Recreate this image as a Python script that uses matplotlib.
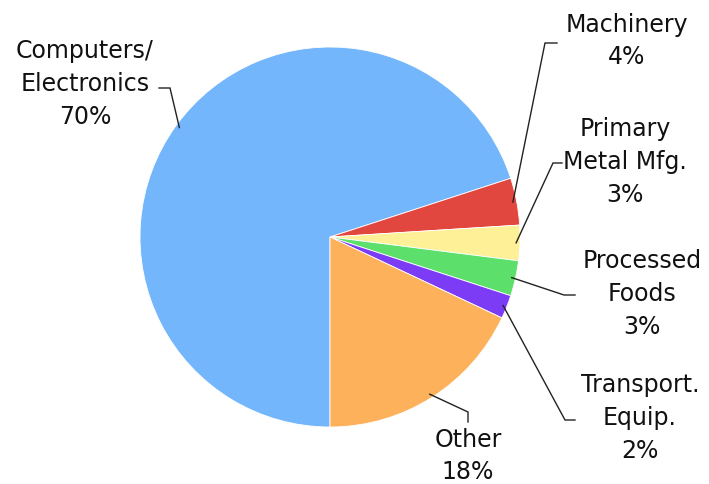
import numpy as np
import matplotlib
matplotlib.use("Agg")
import matplotlib.pyplot as plt

# ---- data ----
categories = ["Computers/\nElectronics", "Machinery", "Primary\nMetal Mfg.",
              "Processed\nFoods", "Transport.\nEquip.", "Other"]
shares = [70, 4, 3, 3, 2, 18]
colors = ["#73b6fb", "#e2473f", "#fdf096", "#5ce06b", "#7c3cf6", "#fdb15b"]

# ---- layout (pixel coordinates, y from top) ----
W, H = 709, 484
cx, cy, R = 330, 237, 190
elbows = [(170, 88), (545, 43), (553, 163), (564, 295), (565, 420), (468, 412)]
tails = [(159, 88), (557, 43), (562, 163), (575, 295), (575, 420), (468, 422)]
label_pos = [(85, 84), (627, 41), (625, 162), (642, 294), (640, 418), (468, 456)]

fig = plt.figure(figsize=(W / 100, H / 100), dpi=100)
ax = fig.add_axes([0, 0, 1, 1])
ax.set_xlim(0, W)
ax.set_ylim(0, H)
ax.set_aspect("equal")
ax.axis("off")

def fy(y):
    return H - y

wedges, _ = ax.pie(shares, colors=colors, startangle=270, counterclock=False,
                   center=(cx, fy(cy)), radius=R,
                   wedgeprops=dict(edgecolor="white", linewidth=0.6))
ax.set_xlim(0, W)
ax.set_ylim(0, H)

for w, cat, val, el, tl, lp in zip(wedges, categories, shares, elbows, tails, label_pos):
    ang = np.deg2rad((w.theta1 + w.theta2) / 2)
    sx = cx + 0.98 * R * np.cos(ang)
    sy = fy(cy) + 0.98 * R * np.sin(ang)
    ax.plot([sx, el[0], tl[0]], [sy, fy(el[1]), fy(tl[1])], color="#222222", lw=1.0,
            solid_joinstyle="miter")
    ax.text(lp[0], fy(lp[1]), f"{cat}\n{val}%", ha="center", va="center",
            fontsize=17, family="DejaVu Sans", color="#111111", linespacing=1.45)

fig.savefig("out.png", dpi=100)
